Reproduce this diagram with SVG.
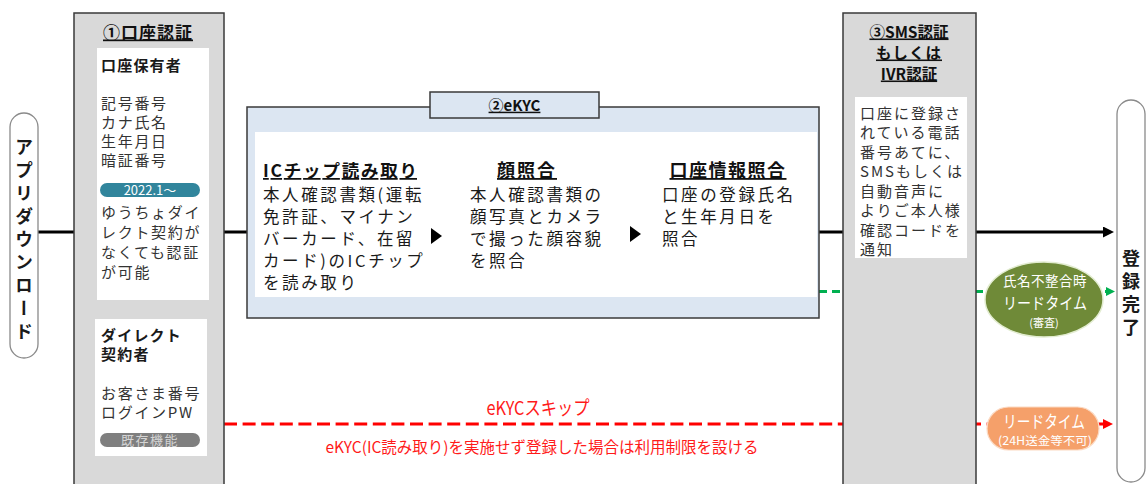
<svg xmlns="http://www.w3.org/2000/svg" width="1147" height="484" viewBox="0 0 1147 484">
<style>
text{font-family:"Noto Sans CJK JP","Noto Sans",sans-serif;}
.col{fill:#d9d9d9;stroke:#3a3a3a;stroke-width:1.5;}
.wb{fill:#ffffff;}
.pill{fill:#ffffff;stroke:#8a8a8a;stroke-width:1.3;}
.ttl{font-weight:bold;fill:#111;text-decoration:underline;}
.hd{font-weight:bold;fill:#1a1a1a;font-size:15px;letter-spacing:1.2px;}
.b1{font-size:15px;fill:#333;letter-spacing:1.7px;}
.eb{font-size:16.5px;fill:#1a1a1a;letter-spacing:2.6px;}
.sb{font-size:15px;fill:#333;letter-spacing:2px;}
.vt{font-size:18px;font-weight:bold;fill:#1a1a1a;writing-mode:vertical-rl;letter-spacing:5px;}
.main{stroke:#000;stroke-width:3;fill:none;}
.grn{stroke:#00b050;stroke-width:3;stroke-dasharray:8 5;fill:none;}
.red{stroke:#ff0000;stroke-width:3;stroke-dasharray:13 5.6;fill:none;}
.wt{fill:#ffffff;text-anchor:middle;}
</style>
<defs>
<marker id="ab" viewBox="0 0 10 10" refX="0" refY="5" markerUnits="userSpaceOnUse" markerWidth="13" markerHeight="11" orient="auto"><path d="M0,0 L10,5 L0,10 z" fill="#000"/></marker>
<marker id="ag" viewBox="0 0 10 10" refX="0" refY="5" markerUnits="userSpaceOnUse" markerWidth="10" markerHeight="9" orient="auto"><path d="M0,0 L10,5 L0,10 z" fill="#00b050"/></marker>
<marker id="ar" viewBox="0 0 10 10" refX="0" refY="5" markerUnits="userSpaceOnUse" markerWidth="13" markerHeight="10" orient="auto"><path d="M0,0 L10,5 L0,10 z" fill="#ff0000"/></marker>
</defs>
<rect width="1147" height="484" fill="#ffffff"/>

<g id="connectors">
<line class="main" x1="38" y1="232" x2="1103" y2="232" marker-end="url(#ab)"/>
<line class="grn" x1="819" y1="291.5" x2="1106" y2="291.5" marker-end="url(#ag)"/>
<line class="red" x1="224" y1="424" x2="1103" y2="424" marker-end="url(#ar)"/>
<text x="538" y="415" font-size="19" fill="#ff1a1a" text-anchor="middle" textLength="103" lengthAdjust="spacingAndGlyphs">eKYCスキップ</text>
<text x="542" y="452.5" font-size="15.5" fill="#ff1a1a" text-anchor="middle">eKYC(IC読み取り)を実施せず登録した場合は利用制限を設ける</text>
</g>

<g id="node-app-download">
<rect class="pill" x="10" y="113" width="28" height="245" rx="14"/>
<text class="vt" x="24" y="138">アプリダウンロード</text>
</g>

<g id="node-account-auth">
<rect class="col" x="74" y="13" width="150" height="480"/>
<text class="ttl" x="148" y="38.5" font-size="17" text-anchor="middle" letter-spacing="1">①口座認証</text>
<rect class="wb" x="97" y="48" width="112" height="252"/>
<text class="hd" x="101" y="71">口座保有者</text>
<text class="b1" x="101" y="108.7">記号番号</text>
<text class="b1" x="101" y="127.7">カナ氏名</text>
<text class="b1" x="101" y="146.7">生年月日</text>
<text class="b1" x="101" y="165.7">暗証番号</text>
<rect x="100" y="183" width="100" height="14" rx="7" fill="#31859c"/>
<text class="wt" x="150" y="194.6" font-size="13">2022.1～</text>
<text class="b1" x="101" y="217.7">ゆうちょダイ</text>
<text class="b1" x="101" y="237.7">レクト契約が</text>
<text class="b1" x="101" y="257.7">なくても認証</text>
<text class="b1" x="101" y="277.7">が可能</text>
<rect class="wb" x="95" y="319" width="112" height="137"/>
<text class="hd" x="101" y="340.5">ダイレクト</text>
<text class="hd" x="101" y="360">契約者</text>
<text class="b1" x="101" y="398.7">お客さま番号</text>
<text class="b1" x="101" y="417.7">ログインPW</text>
<rect x="100" y="433" width="100" height="14" rx="7" fill="#7f7f7f"/>
<text x="150" y="444.6" font-size="13" fill="#d4d4d4" text-anchor="middle" letter-spacing="1.5">既存機能</text>
</g>

<g id="node-ekyc">
<rect x="247" y="107" width="572" height="211" fill="#dce6f2" stroke="#3a3a3a" stroke-width="1.5"/>
<rect class="wb" x="255" y="132" width="562" height="165"/>
<rect x="430" y="92" width="169" height="26" fill="#dce6f2" stroke="#3a3a3a" stroke-width="1.5"/>
<text class="ttl" x="514.5" y="110.7" font-size="15" text-anchor="middle">②eKYC</text>
<text class="ttl" x="263" y="177" font-size="17.5" textLength="154" lengthAdjust="spacing">ICチップ読み取り</text>
<text class="eb" x="263" y="201">本人確認書類(運転</text>
<text class="eb" x="263" y="223">免許証、マイナン</text>
<text class="eb" x="263" y="245">バーカード、在留</text>
<text class="eb" x="263" y="267">カード)のICチップ</text>
<text class="eb" x="263" y="289">を読み取り</text>
<polygon points="431,228 442,236 431,244" fill="#000"/>
<text class="ttl" x="527" y="177" font-size="18" text-anchor="middle" letter-spacing="2">顔照合</text>
<text class="eb" x="470" y="201">本人確認書類の</text>
<text class="eb" x="470" y="223">顔写真とカメラ</text>
<text class="eb" x="470" y="245">で撮った顔容貌</text>
<text class="eb" x="470" y="267">を照合</text>
<polygon points="630,226 641,234 630,242" fill="#000"/>
<text class="ttl" x="728" y="177" font-size="18" text-anchor="middle" letter-spacing="1.5">口座情報照合</text>
<text class="eb" x="662" y="201">口座の登録氏名</text>
<text class="eb" x="662" y="223">と生年月日を</text>
<text class="eb" x="662" y="245">照合</text>
</g>

<g id="node-sms-ivr-auth">
<rect class="col" x="843" y="13" width="133" height="480"/>
<text class="ttl" x="909" y="37.5" font-size="15.5" text-anchor="middle">③SMS認証</text>
<text class="ttl" x="909" y="58.5" font-size="15.5" text-anchor="middle" letter-spacing="1">もしくは</text>
<text class="ttl" x="909" y="79.5" font-size="15.5" text-anchor="middle">IVR認証</text>
<rect class="wb" x="855" y="97" width="112" height="161"/>
<text class="sb" x="860" y="118.7">口座に登録さ</text>
<text class="sb" x="860" y="138.2">れている電話</text>
<text class="sb" x="860" y="157.7">番号あてに、</text>
<text class="sb" x="860" y="177.2">SMSもしくは</text>
<text class="sb" x="860" y="196.7">自動音声に</text>
<text class="sb" x="860" y="216.2">よりご本人様</text>
<text class="sb" x="860" y="235.7">確認コードを</text>
<text class="sb" x="860" y="255.2">通知</text>
</g>

<g id="node-leadtime-review">
<ellipse cx="1044" cy="299.5" rx="59" ry="37.5" fill="#6f8a38" stroke="#e2ecd0" stroke-width="1.5"/>
<text class="wt" x="1045" y="285.5" font-size="13.5" letter-spacing="0.5">氏名不整合時</text>
<text class="wt" x="1045" y="309" font-size="16" textLength="84" lengthAdjust="spacingAndGlyphs">リードタイム</text>
<text class="wt" x="1044" y="327" font-size="11">(審査)</text>
</g>

<g id="node-leadtime-limited">
<rect x="987" y="407" width="112" height="43" rx="21.5" fill="#f5a06a" stroke="#fbd9c2" stroke-width="1.2"/>
<text class="wt" x="1044" y="428" font-size="17" textLength="82" lengthAdjust="spacingAndGlyphs">リードタイム</text>
<text class="wt" x="1045" y="444.5" font-size="11.5" textLength="94" lengthAdjust="spacingAndGlyphs">(24H送金等不可)</text>
</g>

<g id="node-registration-complete">
<rect class="pill" x="1117" y="100" width="28" height="382" rx="14"/>
<text class="vt" x="1131" y="249">登録完了</text>
</g>
</svg>
